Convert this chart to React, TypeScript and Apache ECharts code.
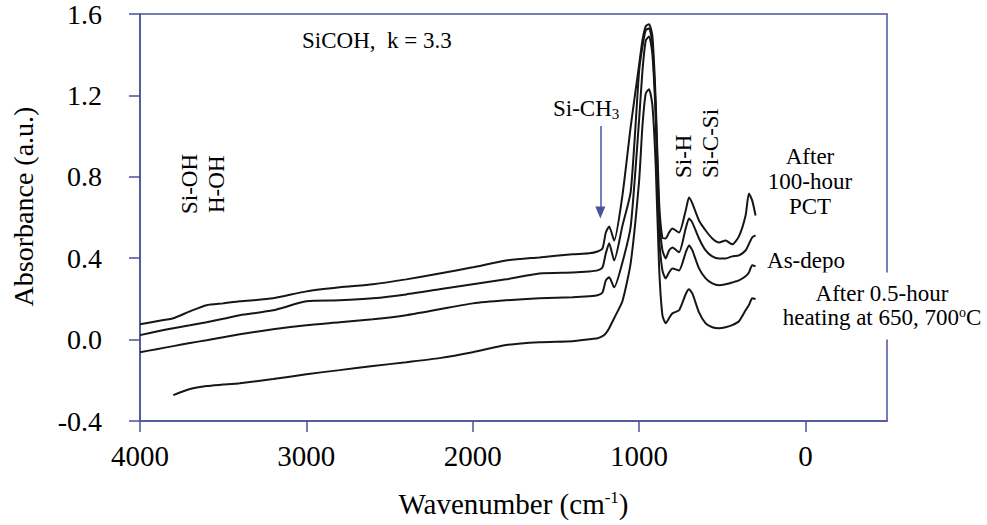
import React, { useEffect, useRef } from "react";
import * as echarts from "echarts";

// Wavenumber grid (cm-1) shared by all spectra
const WAVENUMBER = [
  4000, 3900, 3800, 3700, 3600, 3500, 3400, 3200, 3000, 2800, 2600, 2400, 2200,
  2000, 1800, 1600, 1400, 1300, 1250, 1220, 1200, 1180, 1150, 1100, 1050, 1000,
  980, 960, 940, 920, 900, 880, 860, 840, 820, 800, 760, 720, 700, 680, 640, 600,
  560, 520, 480, 440, 400, 360, 340, 320, 300,
];

// After 100-hour PCT
const PCT_100H = [
  0.075, 0.09, 0.105, 0.139, 0.169, 0.178, 0.188, 0.203, 0.237, 0.257, 0.272,
  0.296, 0.325, 0.355, 0.389, 0.404, 0.419, 0.424, 0.433, 0.448, 0.526, 0.556,
  0.487, 0.71, 1.05, 1.35, 1.47, 1.54, 1.55, 1.49, 1.17, 0.68, 0.5, 0.497, 0.526,
  0.546, 0.526, 0.634, 0.698, 0.669, 0.585, 0.536, 0.497, 0.477, 0.487, 0.468,
  0.507, 0.61, 0.718, 0.683, 0.61,
];

// As-deposited
const AS_DEPO = [
  0.022, 0.04, 0.056, 0.07, 0.085, 0.102, 0.12, 0.144, 0.188, 0.193, 0.203,
  0.222, 0.247, 0.272, 0.296, 0.325, 0.33, 0.335, 0.34, 0.355, 0.424, 0.473,
  0.389, 0.56, 0.73, 1.32, 1.44, 1.52, 1.53, 1.45, 1.12, 0.61, 0.44, 0.399, 0.438,
  0.453, 0.429, 0.546, 0.595, 0.575, 0.497, 0.438, 0.409, 0.399, 0.399, 0.409,
  0.414, 0.438, 0.47, 0.502, 0.512,
];

// After 0.5-hour heating at 650 oC
const HEAT_650 = [
  -0.062, -0.047, -0.032, -0.017, -0.003, 0.012, 0.026, 0.051, 0.071, 0.085, 0.1,
  0.12, 0.149, 0.178, 0.193, 0.203, 0.208, 0.213, 0.218, 0.232, 0.291, 0.306,
  0.257, 0.38, 0.56, 1.08, 1.32, 1.47, 1.49, 1.4, 1.08, 0.51, 0.34, 0.301, 0.33,
  0.35, 0.34, 0.428, 0.463, 0.438, 0.35, 0.301, 0.276, 0.267, 0.272, 0.281,
  0.291, 0.311, 0.33, 0.365, 0.36,
];

// After 0.5-hour heating at 700 oC
const HEAT_700 = [
  null, null, -0.273, -0.243, -0.228, -0.221, -0.214, -0.194, -0.17, -0.15, -0.13,
  -0.111, -0.091, -0.062, -0.027, -0.013, -0.008, 0.002, 0.007, 0.017, 0.031,
  0.056, 0.105, 0.19, 0.38, 0.78, 1.05, 1.21, 1.23, 1.15, 0.85, 0.36, 0.12, 0.08,
  0.105, 0.129, 0.144, 0.223, 0.247, 0.227, 0.134, 0.08, 0.061, 0.056, 0.061,
  0.071, 0.09, 0.144, 0.17, 0.203, 0.2,
];

const X_TICKS = [4000, 3000, 2000, 1000, 0];

const AXIS_COLOR = "#4b529c";
const INK = "#161616";
const SERIF = "'Liberation Serif', 'Times New Roman', Times, serif";

function toPairs(values: (number | null)[]) {
  return WAVENUMBER.map((w, i) => [w, values[i]]);
}

function spectrum(name: string, values: (number | null)[], extra: any = {}) {
  return {
    name,
    type: "line",
    data: toPairs(values),
    showSymbol: false,
    symbol: "none",
    connectNulls: false,
    smooth: 0.2,
    lineStyle: { color: INK, width: 2 },
    z: 3,
    ...extra,
  };
}

export default function App() {
  const ref = useRef<HTMLDivElement>(null);

  useEffect(() => {
    if (!ref.current) return;
    const chart = echarts.init(ref.current, undefined, { renderer: "svg" });

    const textBase = { fontFamily: SERIF, fill: "#000" };

    chart.setOption({
      animation: false,
      backgroundColor: "#fff",
      grid: {
        left: 140,
        right: 100,
        top: 13,
        bottom: 104,
        show: true,
        borderColor: AXIS_COLOR,
        borderWidth: 1.5,
        backgroundColor: "transparent",
      },
      xAxis: {
        type: "value",
        inverse: true,
        min: -490,
        max: 4000,
        name: "Wavenumber (cm{sup|-1})",
        nameLocation: "middle",
        nameGap: 68,
        nameTextStyle: {
          fontFamily: SERIF,
          fontSize: 29,
          color: "#000",
          rich: {
            sup: {
              fontFamily: SERIF,
              fontSize: 17,
              color: "#000",
              padding: [0, 0, 12, 0],
            },
          },
        },
        axisLine: {
          show: true,
          onZero: false,
          lineStyle: { color: AXIS_COLOR, width: 1.5 },
        },
        axisTick: {
          show: true,
          inside: false,
          length: 11,
          customValues: X_TICKS,
          lineStyle: { color: AXIS_COLOR, width: 1.5 },
        },
        axisLabel: {
          customValues: X_TICKS,
          margin: 20,
          fontFamily: SERIF,
          fontSize: 29,
          color: "#000",
          formatter: (v: number) => String(v),
        },
        splitLine: { show: false },
      },
      yAxis: {
        type: "value",
        min: -0.4,
        max: 1.6,
        interval: 0.4,
        name: "Absorbance (a.u.)",
        nameLocation: "middle",
        nameGap: 103,
        nameTextStyle: {
          fontFamily: SERIF,
          fontSize: 28,
          color: "#000",
          padding: [0, 0, 0, 22],
        },
        axisLine: {
          show: true,
          onZero: false,
          lineStyle: { color: AXIS_COLOR, width: 1.5 },
        },
        axisTick: {
          show: true,
          inside: false,
          length: 11,
          lineStyle: { color: AXIS_COLOR, width: 1.5 },
        },
        axisLabel: {
          margin: 38,
          fontFamily: SERIF,
          fontSize: 28,
          color: "#000",
          formatter: (v: number) => v.toFixed(1),
        },
        splitLine: { show: false },
      },
      series: [
        spectrum("After 100-hour PCT", PCT_100H, {
          markLine: {
            silent: true,
            symbol: ["none", "triangle"],
            symbolSize: [10, 12],
            symbolRotate: 180,
            lineStyle: { color: AXIS_COLOR, width: 1.5, type: "solid" },
            label: { show: false },
            data: [[{ coord: [1233, 1.05] }, { coord: [1233, 0.625] }]],
          },
        }),
        spectrum("As-depo", AS_DEPO),
        spectrum("After 0.5-hour heating at 650 oC", HEAT_650),
        spectrum("After 0.5-hour heating at 700 oC", HEAT_700),
      ],
      graphic: [
        {
          type: "text",
          x: 302,
          y: 40,
          z: 100,
          style: {
            ...textBase,
            text: "SiCOH,  k = 3.3",
            fontSize: 23,
            align: "left",
            verticalAlign: "middle",
          },
        },
        {
          type: "text",
          x: 553,
          y: 108,
          z: 100,
          style: {
            ...textBase,
            text: "Si-CH{sub|3}",
            fontSize: 23,
            align: "left",
            verticalAlign: "middle",
            rich: {
              sub: { fontFamily: SERIF, fontSize: 15, fill: "#000", padding: [12, 0, 0, 0] },
            },
          },
        },
        {
          type: "text",
          x: 189,
          y: 214,
          rotation: Math.PI / 2,
          z: 100,
          style: { ...textBase, text: "Si-OH", fontSize: 23, align: "left", verticalAlign: "middle" },
        },
        {
          type: "text",
          x: 216,
          y: 213,
          rotation: Math.PI / 2,
          z: 100,
          style: { ...textBase, text: "H-OH", fontSize: 23, align: "left", verticalAlign: "middle" },
        },
        {
          type: "text",
          x: 683,
          y: 178,
          rotation: Math.PI / 2,
          z: 100,
          style: { ...textBase, text: "Si-H", fontSize: 23, align: "left", verticalAlign: "middle" },
        },
        {
          type: "text",
          x: 710,
          y: 178,
          rotation: Math.PI / 2,
          z: 100,
          style: { ...textBase, text: "Si-C-Si", fontSize: 23, align: "left", verticalAlign: "middle" },
        },
        {
          type: "text",
          x: 810,
          y: 181,
          z: 100,
          style: {
            ...textBase,
            text: "After\n100-hour\nPCT",
            fontSize: 23,
            lineHeight: 25,
            align: "center",
            verticalAlign: "middle",
            backgroundColor: "#fff",
            padding: [4, 6, 4, 6],
          },
        },
        {
          type: "text",
          x: 806,
          y: 260,
          z: 100,
          style: {
            ...textBase,
            text: "As-depo",
            fontSize: 23,
            align: "center",
            verticalAlign: "middle",
            backgroundColor: "#fff",
            padding: [2, 4, 2, 4],
          },
        },
        {
          type: "text",
          x: 882,
          y: 306,
          z: 100,
          style: {
            ...textBase,
            text: "After 0.5-hour\nheating at 650, 700{sup|o}C",
            fontSize: 23,
            lineHeight: 24,
            align: "center",
            verticalAlign: "middle",
            backgroundColor: "#fff",
            padding: [9, 4, 10, 4],
            rich: {
              sup: { fontFamily: SERIF, fontSize: 14, fill: "#000", padding: [0, 0, 10, 0] },
            },
          },
        },
      ],
    });

    return () => chart.dispose();
  }, []);

  return (
    <div
      ref={ref}
      style={{ position: "fixed", left: 0, top: 0, width: 987, height: 525, background: "#fff" }}
    />
  );
}
